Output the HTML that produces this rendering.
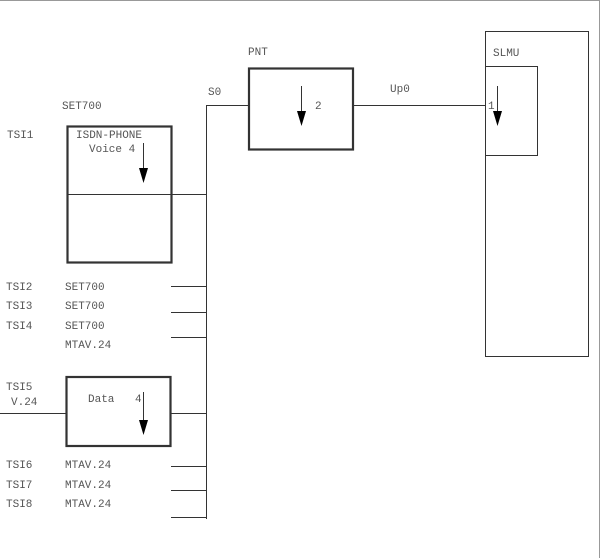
<!DOCTYPE html>
<html><head><style>
html,body{margin:0;padding:0;background:#fff;overflow:hidden}
svg{display:block}
svg text{font-family:"Liberation Mono",monospace;font-size:11px;fill:#555}
</style></head><body>
<svg width="600" height="558" viewBox="0 0 600 558" xmlns="http://www.w3.org/2000/svg">
<path d="M0 0.5H599.5V558" fill="none" stroke="#999" stroke-width="1"/>
<g stroke="#333" fill="none">
<rect x="485.5" y="31.5" width="103" height="325" stroke-width="1"/>
<rect x="485.5" y="66.5" width="52" height="89" stroke-width="1"/>
<rect x="249" y="68.5" width="104" height="81" stroke-width="2.2"/>
<rect x="67.5" y="126.5" width="104" height="136" stroke-width="2.2"/>
<rect x="66.5" y="377" width="104" height="69" stroke-width="2.2"/>
<path d="M353 105.5H485 M206.5 105.5H249 M206.5 105V519 M67 194.5H206 M171 286.5H206 M171 312.5H206 M171 337.5H206 M0 413.5H66 M170 413.5H206 M171 466.5H206 M171 490.5H206 M171 517.5H206" stroke-width="1"/>
<path d="M143.5 143V170 M143.5 392V420 M301.5 86V113 M497.5 86V113" stroke-width="1"/>
</g>
<g fill="#000">
<path d="M139 168h9l-4.5 15z M139 420h9l-4.5 15z M297 111h9l-4.5 15z M493 111h9l-4.5 15z"/>
</g>
<text x="62" y="109">SET700</text>
<text x="208" y="95">S0</text>
<text x="248" y="55">PNT</text>
<text x="390" y="92">Up0</text>
<text x="493" y="56">SLMU</text>
<text x="315" y="109">2</text>
<text x="488" y="109">1</text>
<text x="7" y="138">TSI1</text>
<text x="76" y="138">ISDN-PHONE</text>
<text x="89" y="152">Voice  4</text>
<text x="6" y="290">TSI2</text><text x="65" y="290">SET700</text>
<text x="6" y="309">TSI3</text><text x="65" y="309">SET700</text>
<text x="6" y="329">TSI4</text><text x="65" y="329">SET700</text>
<text x="65" y="348">MTAV.24</text>
<text x="6" y="390">TSI5</text>
<text x="11" y="405">V.24</text>
<text x="88" y="402">Data</text>
<text x="135" y="402">4</text>
<text x="6" y="468">TSI6</text><text x="65" y="468">MTAV.24</text>
<text x="6" y="488">TSI7</text><text x="65" y="488">MTAV.24</text>
<text x="6" y="507">TSI8</text><text x="65" y="507">MTAV.24</text>
</svg>
</body></html>
